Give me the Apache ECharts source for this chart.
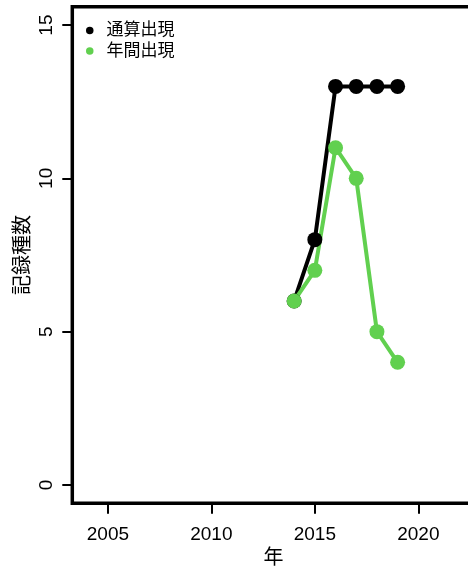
<!DOCTYPE html>
<html><head><meta charset="utf-8">
<script src="https://cdn.jsdelivr.net/npm/echarts@6/dist/echarts.min.js"></script>
<style>html,body{margin:0;padding:0;background:#fff}#c{width:468px;height:569px}</style>
</head><body><div id="c"></div>
<script>
const years = [2014, 2015, 2016, 2017, 2018, 2019];
const cumulative = [6, 8, 13, 13, 13, 13];   // 通算出現
const annual = [6, 7, 11, 10, 5, 4];         // 年間出現
const xTicks = [2005, 2010, 2015, 2020];
const yTicks = [0, 5, 10, 15];
const seriesNames = ['通算出現', '年間出現'];
const colors = ['#000000', '#61D04F'];

const font = '"Liberation Sans", Arial, "Noto Sans CJK JP", sans-serif';
const chart = echarts.init(document.getElementById('c'), null, {renderer: 'canvas'});
chart.setOption({
  backgroundColor: '#fff',
  animation: false,
  textStyle: {fontFamily: font},
  grid: {left: 72.3, top: 6.7, width: 402.3, height: 496.6, show: true, borderColor: '#000', borderWidth: 3.5,
         containLabel: false, outerBoundsMode: 'none'},
  legend: {
    orient: 'vertical', left: 86, top: 22, icon: 'circle', itemWidth: 7.5, itemHeight: 7.5, itemGap: 3.5, padding: 0,
    textStyle: {fontSize: 17, lineHeight: 17, color: '#000', fontFamily: font, padding: [0, 0, 0, 8]},
    data: seriesNames
  },
  xAxis: {
    type: 'value', min: 2003.28, max: 2022.72,
    name: '年', nameLocation: 'middle', nameGap: 45, nameMoveOverlap: false,
    nameTextStyle: {fontSize: 20, color: '#000', fontFamily: font},
    axisLine: {show: false, onZero: false},
    axisTick: {show: true, inside: false, length: 10.5, lineStyle: {color: '#000', width: 2}, customValues: xTicks},
    axisLabel: {fontSize: 19, color: '#000', margin: 22, customValues: xTicks, fontFamily: font,
                formatter: v => String(v)},
    splitLine: {show: false}
  },
  yAxis: {
    type: 'value', min: -0.6, max: 15.6,
    name: '記録種数', nameLocation: 'middle', nameGap: 39, nameRotate: 90, nameMoveOverlap: false,
    nameTextStyle: {fontSize: 20, color: '#000', fontFamily: font},
    axisLine: {show: false, onZero: false},
    axisTick: {show: true, inside: false, length: 10, lineStyle: {color: '#000', width: 2}, customValues: yTicks},
    axisLabel: {fontSize: 19, color: '#000', margin: 16, rotate: 90, customValues: yTicks, fontFamily: font,
                formatter: v => String(v)},
    splitLine: {show: false}
  },
  series: [
    {name: seriesNames[0], type: 'line', data: years.map((y, i) => [y, cumulative[i]]),
     color: colors[0], symbol: 'circle', symbolSize: 15, lineStyle: {width: 4, color: colors[0]},
     itemStyle: {color: colors[0]}, clip: false},
    {name: seriesNames[1], type: 'line', data: years.map((y, i) => [y, annual[i]]),
     color: colors[1], symbol: 'circle', symbolSize: 15, lineStyle: {width: 4, color: colors[1]},
     itemStyle: {color: colors[1]}, clip: false}
  ]
});
</script></body></html>
